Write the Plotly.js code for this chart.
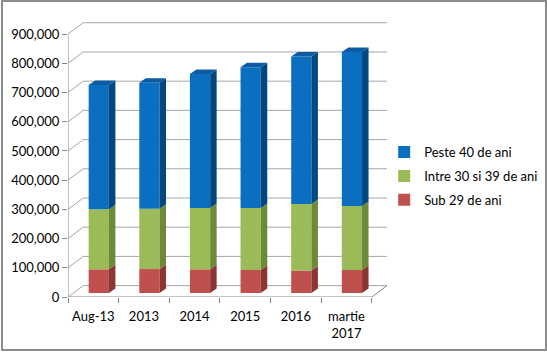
<!DOCTYPE html>
<html>
<head>
<meta charset="utf-8">
<script src="https://cdn.plot.ly/plotly-3.0.1.min.js"></script>
<style>
  html, body { margin: 0; padding: 0; background: #fff; }
  #wrap { position: relative; width: 547px; height: 352px; }
  #chart { position: absolute; left: 0; top: 0; width: 547px; height: 352px; }
  #frame { position: absolute; left: 1px; top: 0px; width: 542px; height: 347px; border: 2px solid #8c8c8c; pointer-events: none; }
</style>
</head>
<body>
<div id="wrap"><div id="chart"></div><div id="frame"></div></div>
<script>
// ---- data ----
const categories = ['Aug-13', '2013', '2014', '2015', '2016', 'martie<br>2017'];
const sub29     = [81000, 82000, 81000, 79000, 77000, 79000];
const intre3039 = [205500, 206500, 210000, 212000, 227500, 219000];
const peste40   = [425500, 431500, 458500, 482000, 505000, 527000];
const yTicks    = [0, 100000, 200000, 300000, 400000, 500000, 600000, 700000, 800000, 900000];
const seriesNames = ['Sub 29 de ani', 'Intre 30 si 39 de ani', 'Peste 40 de ani'];

// ---- style / pseudo-3D geometry ----
const frontCol = ['#C0504D', '#9BBB59', '#0A6FC0'];
const sideCol  = ['#8C3634', '#6C8A38', '#00487F'];
const topCol   = '#0D5CA3';
const BAR_W = 0.4, BAR_OFF = -0.092, LIFT = 13700;
const SDX = 0.128, SDY = 15400;       // bar depth
const WDX = 0.30, WDY = 39000;        // wall depth
const XMIN = -0.5, XMAX = categories.length - 0.5;
const gridCol = '#A6A6A6', axisCol = '#868686';

const idx = categories.map((_, i) => i);
const series = [sub29, intre3039, peste40];
const bases = [];
let run = idx.map(() => LIFT);
series.forEach(s => { bases.push(run.slice()); run = run.map((v, i) => v + s[i]); });
const tops = run;

const traces = [];
series.forEach((s, k) => {
  traces.push({
    type: 'bar', x: idx, y: s, base: bases[k], width: BAR_W, offset: BAR_OFF,
    name: seriesNames[k], legendgroup: 'g' + k, legendrank: series.length - k,
    marker: { color: frontCol[k], line: { width: 0 } },
    hoverinfo: 'name+y'
  });
});
// side faces
series.forEach((s, k) => {
  const xs = [], ys = [];
  idx.forEach(i => {
    const xr = i + BAR_OFF + BAR_W, lo = bases[k][i], hi = bases[k][i] + s[i];
    xs.push(xr, xr + SDX, xr + SDX, xr, xr, null);
    ys.push(lo, lo + SDY, hi + SDY, hi, lo, null);
  });
  traces.push({ type: 'scatter', mode: 'lines', x: xs, y: ys, fill: 'toself',
    fillcolor: sideCol[k], line: { width: 0, color: sideCol[k] }, showlegend: false, hoverinfo: 'skip' });
});
// top faces
{
  const xs = [], ys = [];
  idx.forEach(i => {
    const xl = i + BAR_OFF, xr = xl + BAR_W, t = tops[i];
    xs.push(xl, xl + SDX, xr + SDX, xr, xl, null);
    ys.push(t, t + SDY, t + SDY, t, t, null);
  });
  traces.push({ type: 'scatter', mode: 'lines', x: xs, y: ys, fill: 'toself',
    fillcolor: topCol, line: { width: 0, color: topCol }, showlegend: false, hoverinfo: 'skip' });
}

// walls / grid
const shapes = [];
yTicks.forEach(v => {
  shapes.push({ type: 'line', layer: 'below', x0: XMIN + WDX, x1: XMAX + WDX, y0: v + WDY, y1: v + WDY, line: { color: gridCol, width: 1 } });
  shapes.push({ type: 'line', layer: 'below', x0: XMIN, x1: XMIN + WDX, y0: v, y1: v + WDY, line: { color: gridCol, width: 1 } });
});
shapes.push({ type: 'line', layer: 'below', x0: XMIN, x1: XMAX, y0: 0, y1: 0, line: { color: axisCol, width: 1 } });
shapes.push({ type: 'line', layer: 'below', x0: XMAX, x1: XMAX + WDX, y0: 0, y1: WDY, line: { color: axisCol, width: 1 } });
shapes.push({ type: 'line', layer: 'below', x0: XMIN, x1: XMIN, y0: 0, y1: yTicks[yTicks.length - 1], line: { color: axisCol, width: 1 } });

const boundaries = idx.map(i => i - 0.5).concat([XMAX]);

const layout = {
  width: 547, height: 352,
  margin: { l: 68, r: 158, t: 21, b: 55, autoexpand: false },
  paper_bgcolor: '#ffffff', plot_bgcolor: 'rgba(0,0,0,0)',
  font: { family: 'Lato, "Open Sans", sans-serif', size: 13, color: '#000' },
  barmode: 'overlay',
  showlegend: true,
  legend: { x: 0.985, y: 0.438, xanchor: 'left', yanchor: 'middle', traceorder: 'grouped',
            tracegroupgap: 4, bgcolor: 'rgba(0,0,0,0)', font: { size: 13 } },
  xaxis: {
    range: [XMIN, XMAX + 0.34], tickvals: idx, ticktext: categories,
    ticks: 'outside', ticklen: 7, tickcolor: 'rgba(0,0,0,0)',
    minor: { tickvals: boundaries, ticks: 'outside', ticklen: 5, tickcolor: axisCol, showgrid: false },
    showgrid: false, zeroline: false, showline: false, fixedrange: true
  },
  yaxis: {
    range: [0, 945000], tickvals: yTicks, tickformat: ',.0f',
    ticks: 'outside', ticklen: 5, tickcolor: axisCol,
    showgrid: false, zeroline: false, showline: false, fixedrange: true
  },
  shapes: shapes
};

Plotly.newPlot('chart', traces, layout, { displayModeBar: false, staticPlot: true });
</script>
</body>
</html>
